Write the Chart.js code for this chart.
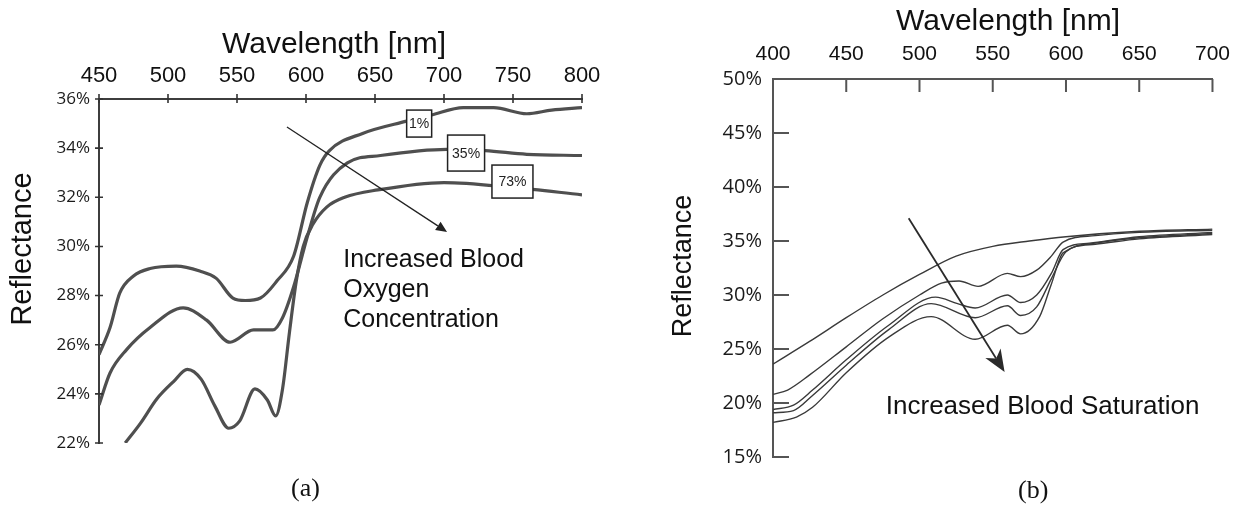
<!DOCTYPE html>
<html>
<head>
<meta charset="utf-8">
<script src="https://cdn.jsdelivr.net/npm/chart.js@4.4.1/dist/chart.umd.min.js"></script>
<style>
  html, body { margin: 0; padding: 0; background: #fff; }
  body { width: 1242px; height: 507px; position: relative; overflow: hidden; }
  canvas { position: absolute; top: 0; }
  #chartA { left: 0; }
  #chartB { left: 620px; }
  .cap { position: absolute; font-family: 'Liberation Serif', serif; font-size: 26px; line-height: 30px; color: #111; }
</style>
</head>
<body>
<canvas id="chartA" width="620" height="507"></canvas>
<canvas id="chartB" width="622" height="507"></canvas>
<div class="cap" style="left:291px; top:473px;">(a)</div>
<div class="cap" style="left:1018px; top:475px;">(b)</div>
<script>
// ---- (a) 三种血氧浓度下的反射率 ----
const seriesA = ['1%', '35%', '73%'];
const wlA_1 = [450, 458, 465, 475, 487, 506, 523, 535, 547, 556, 567, 579, 591, 601, 610, 617, 641, 673, 691, 714, 736, 760, 778, 800];
const reflA_1 = [25.6, 26.7, 28.1, 28.8, 29.1, 29.2, 29.0, 28.7, 27.9, 27.8, 27.9, 28.6, 29.6, 31.8, 33.3, 33.9, 34.6, 35.1, 35.35, 35.65, 35.65, 35.4, 35.55, 35.65];
const wlA_35 = [450, 458, 470, 487, 511, 528, 545, 562, 576, 583, 591, 601, 610, 630, 654, 702, 730, 760, 800];
const reflA_35 = [23.55, 24.85, 25.8, 26.7, 27.5, 27.0, 26.1, 26.6, 26.6, 27.1, 28.35, 30.4, 32.0, 33.4, 33.7, 33.95, 33.9, 33.75, 33.7];
const wlA_73 = [469, 480, 492, 504, 514, 524, 534, 544, 552, 563, 572, 578, 583, 588, 593, 598, 605, 615, 628, 652, 700, 750, 800];
const reflA_73 = [22.0, 22.8, 23.8, 24.5, 25.0, 24.6, 23.5, 22.6, 22.9, 24.2, 23.75, 23.1, 24.2, 26.5, 28.6, 30.0, 30.9, 31.6, 32.0, 32.3, 32.6, 32.4, 32.1];

// ---- (b) 血饱和度增加时的反射率 ----
const wlB_1 = [400, 425, 450, 475, 500, 525, 550, 575, 600, 650, 700];
const reflB_1 = [23.6, 25.7, 27.9, 30.0, 31.9, 33.6, 34.5, 35.0, 35.4, 35.9, 36.1];
const wlB_2 = [400, 410, 425, 450, 475, 500, 515, 527, 540, 560, 569, 580, 590, 598, 620, 650, 700];
const reflB_2 = [20.8, 21.2, 22.6, 25.2, 27.8, 30.0, 31.1, 31.3, 30.8, 32.0, 31.7, 32.3, 33.6, 34.9, 35.5, 35.8, 36.0];
const wlB_3 = [400, 414, 427, 450, 479, 511, 526, 538, 560, 569, 580, 590, 598, 616, 650, 700];
const reflB_3 = [19.4, 19.8, 21.2, 24.0, 27.2, 29.8, 29.2, 28.8, 30.0, 29.3, 30.0, 32.0, 34.2, 34.8, 35.4, 35.8];
const wlB_4 = [400, 414, 427, 450, 479, 508, 538, 560, 569, 580, 590, 600, 620, 650, 700];
const reflB_4 = [19.1, 19.3, 20.7, 23.5, 26.8, 29.2, 27.9, 29.0, 28.1, 28.9, 31.5, 34.0, 34.8, 35.3, 35.7];
const wlB_5 = [400, 416, 427, 450, 479, 508, 538, 560, 569, 582, 590, 598, 620, 650, 700];
const reflB_5 = [18.2, 18.7, 19.6, 22.8, 26.1, 28.0, 25.9, 27.2, 26.4, 28.0, 31.0, 33.9, 34.7, 35.2, 35.6];

const xTicksA = { min: 450, max: 800, step: 50 };
const yTicksA = { min: 22, max: 36, step: 2 };
const xTicksB = { min: 400, max: 700, step: 50 };
const yTicksB = { min: 15, max: 50, step: 5 };

const SANS = 'Liberation Sans';

function pts(wl, r) {
    return wl.map((w, i) => ({ x: w, y: r[i] }));
}

function lineSet(label, wl, r, color, width) {
    return {
        label: label,
        data: pts(wl, r),
        borderColor: color,
        borderWidth: width,
        pointRadius: 0,
        fill: false,
        cubicInterpolationMode: 'monotone'
    };
}

// 画箭头
function arrow(ctx, x1, y1, x2, y2, len, half, notch, color, lw) {
    const ang = Math.atan2(y2 - y1, x2 - x1);
    ctx.save();
    ctx.strokeStyle = color;
    ctx.fillStyle = color;
    ctx.lineWidth = lw;
    ctx.beginPath();
    ctx.moveTo(x1, y1);
    ctx.lineTo(x2 - Math.cos(ang) * (len - notch), y2 - Math.sin(ang) * (len - notch));
    ctx.stroke();
    ctx.translate(x2, y2);
    ctx.rotate(ang);
    ctx.beginPath();
    ctx.moveTo(0, 0);
    ctx.lineTo(-len, -half);
    ctx.lineTo(-len + notch, 0);
    ctx.lineTo(-len, half);
    ctx.closePath();
    ctx.fill();
    ctx.restore();
}

function axisTicks(chart, o) {
    const { ctx, chartArea: a, scales: { x, y } } = chart;
    ctx.save();
    ctx.strokeStyle = o.color;
    ctx.lineWidth = o.width;
    ctx.beginPath();
    x.ticks.forEach(t => {
        const px = x.getPixelForValue(t.value);
        ctx.moveTo(px, a.top - o.xOut);
        ctx.lineTo(px, a.top + o.xIn);
    });
    y.ticks.forEach(t => {
        const py = y.getPixelForValue(t.value);
        ctx.moveTo(a.left - o.yOut, py);
        ctx.lineTo(a.left + o.yIn, py);
    });
    ctx.stroke();
    ctx.restore();
}

function vTitle(ctx, txt, cx, cy, size) {
    ctx.save();
    ctx.translate(cx, cy);
    ctx.rotate(-Math.PI / 2);
    ctx.font = size + 'px "' + SANS + '"';
    ctx.fillStyle = '#111';
    ctx.textAlign = 'center';
    ctx.textBaseline = 'middle';
    ctx.fillText(txt, 0, 0);
    ctx.restore();
}

const decorA = {
    id: 'decorA',
    afterDatasetsDraw(chart) {
        const { ctx, scales: { x, y } } = chart;
        axisTicks(chart, { color: '#333', width: 1.6, xOut: 5, xIn: 4, yOut: 4, yIn: 4 });

        // 曲线标签框
        const boxes = [
            { wl: 682, r: 35.0, w: 25, h: 27 },
            { wl: 716, r: 33.8, w: 37, h: 36 },
            { wl: 749.6, r: 32.64, w: 41, h: 33 }
        ];
        ctx.save();
        ctx.font = '14px "' + SANS + '"';
        ctx.textAlign = 'center';
        ctx.textBaseline = 'middle';
        boxes.forEach((b, i) => {
            const cx = x.getPixelForValue(b.wl);
            const cy = y.getPixelForValue(b.r);
            ctx.fillStyle = '#fff';
            ctx.fillRect(cx - b.w / 2, cy - b.h / 2, b.w, b.h);
            ctx.strokeStyle = '#222';
            ctx.lineWidth = 1.5;
            ctx.strokeRect(cx - b.w / 2, cy - b.h / 2, b.w, b.h);
            ctx.fillStyle = '#222';
            ctx.fillText(seriesA[i], cx, cy + 1);
        });
        ctx.restore();

        arrow(ctx, x.getPixelForValue(586.2), y.getPixelForValue(34.86),
            x.getPixelForValue(702.2), y.getPixelForValue(30.59), 11, 5, 0, '#222', 1.3);

        ctx.save();
        ctx.font = '25px "' + SANS + '"';
        ctx.fillStyle = '#111';
        ctx.textBaseline = 'alphabetic';
        const tx = x.getPixelForValue(627), ty = y.getPixelForValue(29.15);
        ['Increased Blood', 'Oxygen', 'Concentration'].forEach((s, i) => ctx.fillText(s, tx, ty + i * 30));

        ctx.font = '30px "' + SANS + '"';
        ctx.textAlign = 'center';
        ctx.textBaseline = 'middle';
        ctx.fillText('Wavelength [nm]', 334, 45);
        ctx.restore();
        vTitle(ctx, 'Reflectance', 23, 249, 29);
    }
};

const decorB = {
    id: 'decorB',
    afterDatasetsDraw(chart) {
        const { ctx, scales: { x, y } } = chart;
        axisTicks(chart, { color: '#555', width: 2, xOut: 0, xIn: 13, yOut: 0, yIn: 16 });

        arrow(ctx, x.getPixelForValue(492.6), y.getPixelForValue(37.1),
            x.getPixelForValue(558.1), y.getPixelForValue(22.87), 22, 9, 6, '#2a2a2a', 1.8);

        ctx.save();
        ctx.font = '26px "' + SANS + '"';
        ctx.fillStyle = '#111';
        ctx.textBaseline = 'alphabetic';
        ctx.fillText('Increased Blood Saturation', x.getPixelForValue(477), y.getPixelForValue(19.0));

        ctx.font = '30px "' + SANS + '"';
        ctx.textAlign = 'center';
        ctx.textBaseline = 'middle';
        ctx.fillText('Wavelength [nm]', 388, 22);
        ctx.restore();
        vTitle(ctx, 'Reflectance', 64, 266, 27);
    }
};

function makeScales(xt, yt, o) {
    return {
        x: {
            type: 'linear', position: 'top', min: xt.min, max: xt.max,
            ticks: { stepSize: xt.step, padding: o.xPad, maxRotation: 0, autoSkip: false, color: '#111',
                font: { family: SANS, size: o.xFont } },
            grid: { display: true, drawOnChartArea: false, drawTicks: false },
            border: { display: true, color: o.axisColor, width: 2 },
            afterFit: s => { s.height = o.top; }
        },
        y: {
            min: yt.min, max: yt.max,
            ticks: { stepSize: yt.step, padding: o.yPad, color: '#1a1a1a', callback: v => v + '%',
                font: { family: 'Open Sans', size: o.yFont } },
            grid: { display: true, drawOnChartArea: false, drawTicks: false },
            border: { display: true, color: o.axisColor, width: 2 },
            afterFit: s => { s.width = o.left; }
        }
    };
}

const baseOpts = {
    responsive: false,
    animation: false,
    events: [],
    plugins: { legend: { display: false }, tooltip: { enabled: false } }
};

new Chart(document.getElementById('chartA'), {
    type: 'line',
    data: {
        datasets: [
            lineSet(seriesA[0], wlA_1, reflA_1, '#4f4f4f', 3.2),
            lineSet(seriesA[1], wlA_35, reflA_35, '#4f4f4f', 3.2),
            lineSet(seriesA[2], wlA_73, reflA_73, '#4f4f4f', 3.2)
        ]
    },
    options: {
        ...baseOpts,
        layout: { padding: { left: 0, top: 0, right: 38, bottom: 64 } },
        scales: makeScales(xTicksA, yTicksA, { xPad: 10, yPad: 9, xFont: 22, yFont: 17, axisColor: '#3d3d3d', top: 99, left: 99 })
    },
    plugins: [decorA]
});

new Chart(document.getElementById('chartB'), {
    type: 'line',
    data: {
        datasets: [
            lineSet('b1', wlB_1, reflB_1, '#3a3a3a', 1.4),
            lineSet('b2', wlB_2, reflB_2, '#3a3a3a', 1.4),
            lineSet('b3', wlB_3, reflB_3, '#3a3a3a', 1.4),
            lineSet('b4', wlB_4, reflB_4, '#3a3a3a', 1.4),
            lineSet('b5', wlB_5, reflB_5, '#3a3a3a', 1.4)
        ]
    },
    options: {
        ...baseOpts,
        layout: { padding: { left: 0, top: 0, right: 25, bottom: 50 } },
        scales: makeScales(xTicksB, yTicksB, { xPad: 12, yPad: 11, xFont: 21, yFont: 20, axisColor: '#555', top: 79, left: 153 })
    },
    plugins: [decorB]
});
</script>
</body>
</html>
